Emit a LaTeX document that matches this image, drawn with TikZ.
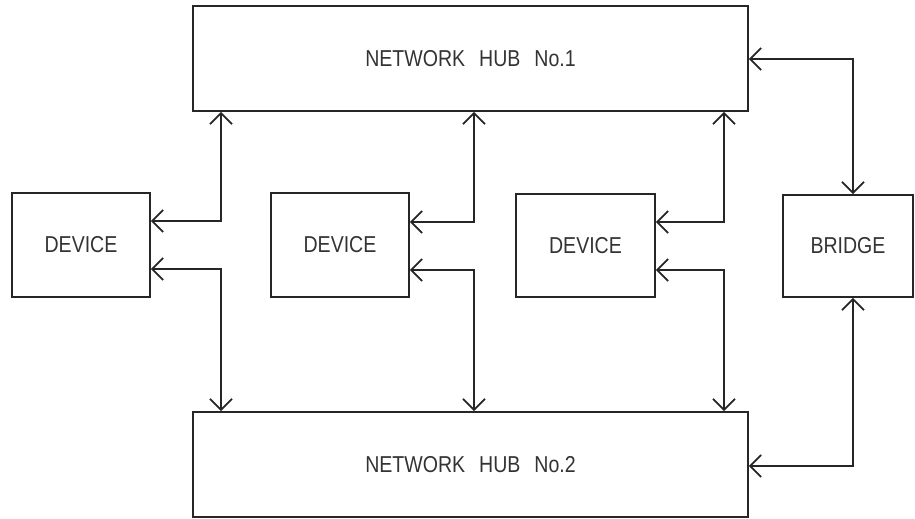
\documentclass[tikz,border=0pt]{standalone}
\usepackage{fontspec}
\setmainfont[FakeStretch=0.85]{Liberation Sans}
\usetikzlibrary{arrows.meta}
\definecolor{ink}{HTML}{262626}
\definecolor{txt}{HTML}{333333}
\begin{document}
\begin{tikzpicture}[x=1pt,y=-1pt,
  box/.style={draw=ink,line width=1.7pt,rectangle,inner sep=0pt,text=txt,
    font=\fontsize{23}{26}\selectfont},
  link/.style={draw=ink,line width=1.7pt,
    {Straight Barb[length=11pt,width=22pt,line width=1.8pt]}-{Straight Barb[length=11pt,width=22pt,line width=1.8pt]}}]
\useasboundingbox (0,0) rectangle (915,519);
\node[box,minimum width=555pt,minimum height=105pt] (hub1) at (470.5,58.5)
  {NETWORK\hspace{14pt}HUB\hspace{14pt}No.1};
\node[box,minimum width=555pt,minimum height=105pt] (hub2) at (470.5,464.5)
  {NETWORK\hspace{14pt}HUB\hspace{14pt}No.2};
\node[box,minimum width=138pt,minimum height=104pt] (dev1) at (81,245) {DEVICE};
\node[box,minimum width=138pt,minimum height=104pt] (dev2) at (340,245) {DEVICE};
\node[box,minimum width=139pt,minimum height=103pt] (dev3) at (585.5,245.5) {DEVICE};
\node[box,minimum width=130pt,minimum height=102pt] (bridge) at (848,246) {BRIDGE};
\coordinate (a1) at (221,221);
\coordinate (a2) at (221,269);
\coordinate (d1) at (474,222);
\coordinate (d2) at (474,270);
\coordinate (e1) at (724,222);
\coordinate (e2) at (724,270);
\coordinate (b1) at (853,59);
\coordinate (b2) at (853,466);
\draw[link] (hub1.south -| a1) |- (dev1.east |- a1);
\draw[link] (dev1.east |- a2) -| (hub2.north -| a2);
\draw[link] (hub1.south -| d1) |- (dev2.east |- d1);
\draw[link] (dev2.east |- d2) -| (hub2.north -| d2);
\draw[link] (hub1.south -| e1) |- (dev3.east |- e1);
\draw[link] (dev3.east |- e2) -| (hub2.north -| e2);
\draw[link] (hub1.east |- b1) -| (bridge.north -| b1);
\draw[link] (bridge.south -| b2) |- (hub2.east |- b2);
\end{tikzpicture}
\end{document}
